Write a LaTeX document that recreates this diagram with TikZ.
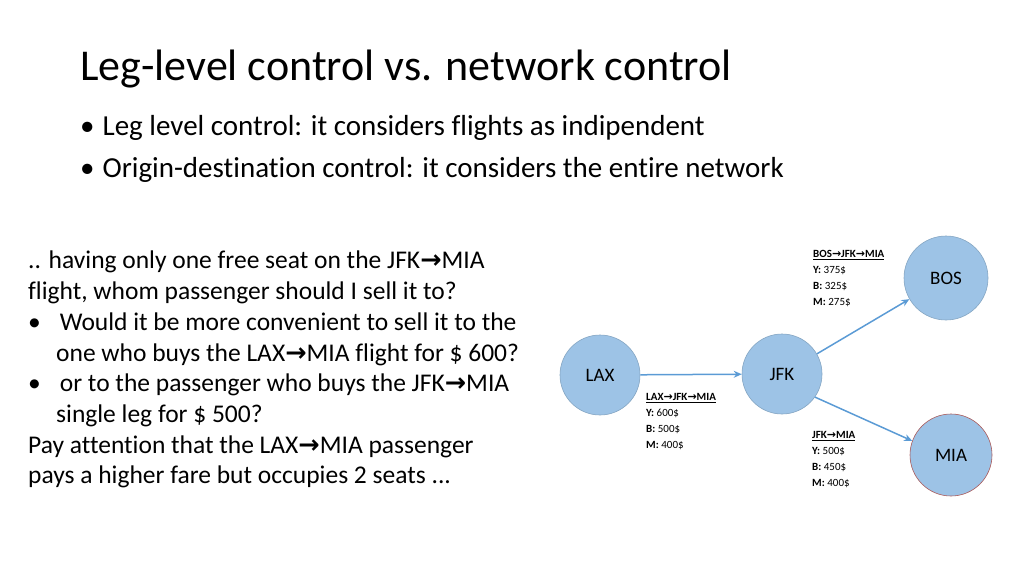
\documentclass[tikz,border=0pt]{standalone}
\usetikzlibrary{arrows.meta}
\usepackage{fontspec}
\setmainfont[Ligatures=NoCommon]{Carlito}
\newfontfamily\dv{DejaVu Sans}
\definecolor{cfill}{RGB}{157,195,230}
\definecolor{cline}{RGB}{91,155,213}
\definecolor{cred}{RGB}{170,90,90}
\newcommand{\ar}{{\dv\bfseries\char"2192}}
\begin{document}
\begin{tikzpicture}[x=1pt,y=-1pt,
  city/.style={circle,fill=cfill,draw=cfill!85!black,line width=0.6pt,minimum size=80pt,inner sep=0pt,font=\fontsize{19}{19}\selectfont},
  link/.style={cline,line width=1.5pt,-{Stealth[length=8pt,width=7pt]}},
  fare/.style={anchor=north west,align=left,font=\fontsize{11}{16}\selectfont,inner sep=0pt},
  txt/.style={anchor=base west,inner sep=0pt}]
\useasboundingbox (0,0) rectangle (1024,576);
\node[txt,font=\fontsize{44}{44}\selectfont] (t) at (80,80) {Leg-level control vs. network control};
\node[txt,font=\fontsize{29}{29}\selectfont] (b1) at (80,135) {\textbullet\hspace{8pt}Leg level control: it considers flights as indipendent};
\node[txt,font=\fontsize{29}{29}\selectfont] (b2) at (80,177) {\textbullet\hspace{8pt}Origin-destination control: it considers the entire network};
\node[anchor=north west,inner sep=0pt,align=left,font=\fontsize{25.5}{30.7}\selectfont] (l) at (28,251) {%
.. having only one free seat on the JFK\ar MIA\\
flight, whom passenger should I sell it to?\\
\textbullet\hspace{19pt}Would it be more convenient to sell it to the\\
\hspace*{28pt}one who buys the LAX\ar MIA flight for \$ 600?\\
\textbullet\hspace{19pt}or to the passenger who buys the JFK\ar MIA\\
\hspace*{28pt}single leg for \$ 500?\\
Pay attention that the LAX\ar MIA passenger\\
pays a higher fare but occupies 2 seats ...};
\node[city] (lax) at (600,375) {LAX};
\node[city] (jfk) at (782,374) {JFK};
\node[city,minimum size=84pt] (bos) at (946,278) {BOS};
\node[city,draw=cred,minimum size=82pt] (mia) at (951,455) {MIA};
\draw[link] (lax) -- (jfk);
\draw[link] (jfk.30) -- (bos.210);
\draw[link] (jfk.-35) -- (mia.160);
\node[fare] (f1) at (813,250) {\textbf{\underline{BOS\ar JFK\ar MIA}}\\\textbf{Y:} 375\$\\\textbf{B:} 325\$\\\textbf{M:} 275\$};
\node[fare] (f2) at (646,393) {\textbf{\underline{LAX\ar JFK\ar MIA}}\\\textbf{Y:} 600\$\\\textbf{B:} 500\$\\\textbf{M:} 400\$};
\node[fare] (f3) at (812,431) {\textbf{\underline{JFK\ar MIA}}\\\textbf{Y:} 500\$\\\textbf{B:} 450\$\\\textbf{M:} 400\$};
\end{tikzpicture}
\end{document}
